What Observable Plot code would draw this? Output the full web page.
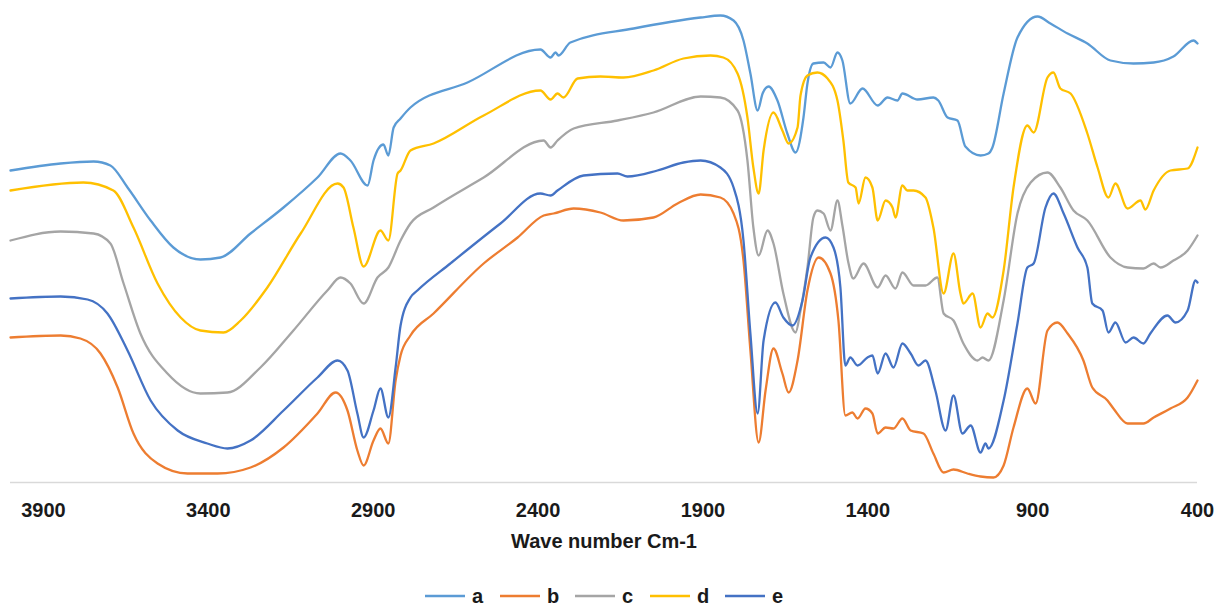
<!DOCTYPE html>
<html>
<head>
<meta charset="utf-8">
<script src="https://cdn.jsdelivr.net/npm/d3@7"></script>
<script src="https://cdn.jsdelivr.net/npm/@observablehq/plot@0.6"></script>
<style>
  body { margin: 0; background: #fff; font-family: "Liberation Sans", Arial, sans-serif; }
  #wrap { position: relative; width: 1219px; height: 607px; }
  #legend { position: absolute; left: 425px; top: 586px; height: 20px; display: flex; align-items: center; }
  .item { display: flex; align-items: center; width: 75px; font-weight: bold; font-size: 20px; color: #1a1a1a; }
  .item svg { margin-right: 7px; }
</style>
</head>
<body>
<div id="wrap"><div id="chart"></div><div id="legend"></div></div>
<script>
// Wave number (cm-1) and relative transmittance (a.u.)
const seriesNames = ["a", "b", "c", "d", "e"];
const seriesColors = ["#5B9BD5", "#ED7D31", "#A5A5A5", "#FFC000", "#4472C4"];
const xTicks = [3900, 3400, 2900, 2400, 1900, 1400, 900, 400];

const spectrumA = [[4000,311],[3848,318],[3748,320],[3697,316],[3645,294],[3575,261],[3506,234],[3424,222],[3363,224],[3272,248],[3172,274],[3069,304],[2999,328],[2969,321],[2917,296],[2899,321],[2869,337],[2854,326],[2838,354],[2817,363],[2787,374],[2614,399],[2393,432],[2362,424],[2347,429],[2338,426],[2302,439],[2110,453],[1907,464],[1847,466],[1807,461],[1777,441],[1756,408],[1734,371],[1719,388],[1701,395],[1674,381],[1644,348],[1619,329],[1595,364],[1583,398],[1565,418],[1534,419],[1513,414],[1492,429],[1477,421],[1453,378],[1416,393],[1370,376],[1340,384],[1310,381],[1295,388],[1249,382],[1201,384],[1186,381],[1158,364],[1128,361],[1104,335],[1058,326],[1034,328],[1022,334],[988,388],[946,444],[885,465],[846,458],[794,448],[734,438],[664,421],[594,418],[533,419],[473,425],[412,441],[400,438]];

const spectrumB = [[4000,144],[3848,146],[3788,143],[3727,128],[3675,94],[3627,48],[3554,18],[3463,8],[3372,8],[3272,14],[3172,34],[3069,68],[3014,89],[2978,71],[2948,31],[2929,16],[2899,41],[2878,53],[2854,38],[2832,101],[2817,126],[2787,146],[2717,168],[2565,218],[2462,244],[2383,266],[2353,268],[2292,273],[2211,269],[2141,261],[2050,264],[1977,278],[1907,287],[1847,284],[1807,268],[1777,221],[1756,131],[1731,39],[1710,91],[1686,133],[1659,108],[1640,89],[1613,121],[1583,191],[1549,224],[1513,208],[1489,161],[1468,66],[1447,69],[1431,63],[1407,73],[1386,68],[1370,48],[1346,54],[1322,53],[1295,63],[1270,51],[1231,48],[1201,28],[1170,9],[1140,12],[1098,8],[1058,5],[1019,4],[988,16],[958,54],[916,93],[891,78],[855,151],[825,159],[794,148],[746,121],[719,94],[673,81],[655,73],[612,58],[564,58],[533,64],[482,73],[430,84],[400,101]];

const spectrumC = [[4000,241],[3848,250],[3748,248],[3697,238],[3657,198],[3606,148],[3524,108],[3424,88],[3342,89],[3242,114],[3142,151],[3039,191],[2999,204],[2969,198],[2929,178],[2887,204],[2854,214],[2817,241],[2787,258],[2717,274],[2565,304],[2383,341],[2362,334],[2341,341],[2292,353],[2159,361],[2050,369],[1907,385],[1847,384],[1795,371],[1765,321],[1747,254],[1731,226],[1704,251],[1686,238],[1656,188],[1619,149],[1604,171],[1583,214],[1565,264],[1553,271],[1534,268],[1513,251],[1492,281],[1477,256],[1459,219],[1444,203],[1413,218],[1370,194],[1346,206],[1316,193],[1295,209],[1261,196],[1225,196],[1189,204],[1170,168],[1140,161],[1110,138],[1067,121],[1052,124],[1034,121],[988,181],[946,268],[906,299],[855,309],[816,294],[776,271],[734,261],[664,224],[612,214],[564,213],[533,218],[512,214],[473,221],[430,231],[400,246]];

const spectrumD = [[4000,291],[3779,299],[3688,291],[3627,254],[3554,198],[3484,164],[3424,151],[3354,149],[3302,161],[3221,194],[3120,248],[3008,298],[2990,294],[2960,254],[2929,215],[2878,251],[2854,241],[2826,308],[2817,311],[2787,331],[2717,338],[2565,366],[2393,391],[2362,382],[2341,388],[2323,384],[2280,403],[2211,405],[2141,404],[2050,411],[1959,423],[1877,426],[1838,424],[1795,408],[1765,364],[1747,314],[1731,288],[1716,331],[1686,369],[1659,351],[1640,338],[1613,354],[1604,386],[1583,406],[1553,409],[1522,403],[1492,381],[1474,341],[1459,299],[1437,294],[1428,278],[1407,304],[1386,294],[1370,261],[1346,281],[1325,274],[1316,264],[1295,296],[1280,291],[1261,291],[1225,284],[1201,254],[1170,188],[1140,228],[1119,188],[1110,178],[1082,188],[1058,154],[1037,168],[1022,164],[988,211],[958,294],[916,356],[897,349],[855,404],[837,409],[816,393],[785,388],[734,348],[703,314],[670,284],[649,298],[612,273],[573,281],[558,272],[533,291],[482,311],[430,313],[400,334]];

const spectrumE = [[4000,183],[3848,185],[3766,182],[3706,168],[3645,131],[3575,81],[3493,51],[3403,38],[3342,33],[3272,41],[3172,71],[3069,104],[3008,121],[2978,111],[2948,68],[2929,44],[2899,71],[2878,93],[2854,64],[2832,114],[2817,156],[2787,184],[2766,191],[2666,218],[2514,258],[2393,288],[2362,286],[2341,291],[2262,306],[2159,308],[2129,305],[2038,311],[1959,319],[1907,321],[1847,314],[1807,294],[1777,241],[1756,148],[1734,68],[1716,141],[1680,179],[1656,164],[1628,156],[1598,181],[1574,224],[1528,244],[1504,234],[1483,194],[1468,116],[1453,124],[1431,116],[1401,124],[1386,126],[1370,108],[1346,128],[1322,114],[1295,138],[1270,128],[1246,116],[1225,121],[1195,91],[1164,51],[1140,86],[1113,48],[1088,56],[1058,29],[1043,38],[1034,33],[988,81],[946,158],[916,214],[897,218],[861,274],[837,288],[806,268],[764,234],[734,214],[719,178],[688,171],[670,149],[649,159],[618,139],[594,144],[564,138],[543,148],[491,166],[467,159],[430,171],[406,201],[400,199]];

const spectra = [spectrumA, spectrumB, spectrumC, spectrumD, spectrumE];
const rows = [];
spectra.forEach((s, i) => s.forEach(([wn, t]) => rows.push({series: seriesNames[i], wn, t})));

const W = 1219, H = 560;
const chart = Plot.plot({
  width: W,
  height: H,
  marginTop: 10,
  marginLeft: 10,
  marginRight: 22,
  marginBottom: 78,
  style: {fontFamily: "'Liberation Sans', Arial, sans-serif", background: "#fff"},
  x: {domain: [4000, 400], ticks: xTicks},
  y: {domain: [-1, 471], axis: null},
  color: {domain: seriesNames, range: seriesColors},
  marks: [
    Plot.ruleY([-1], {stroke: "#d9d9d9", strokeWidth: 1.5}),
    Plot.axisX({
      ticks: xTicks, tickSize: 0, tickPadding: 20, tickFormat: d => String(d),
      fontSize: 20, fontWeight: "bold", fill: "#1a1a1a",
      label: "Wave number Cm-1", labelAnchor: "center", labelArrow: "none", labelOffset: 65
    }),
    Plot.line(rows, {x: "wn", y: "t", z: "series", stroke: "series", strokeWidth: 2.3, curve: "monotone-x"})
  ]
});
document.getElementById("chart").appendChild(chart);

const legend = document.getElementById("legend");
seriesNames.forEach((n, i) => {
  const item = document.createElement("div");
  item.className = "item";
  item.innerHTML = `<svg width="40" height="6"><line x1="0" y1="3" x2="40" y2="3" stroke="${seriesColors[i]}" stroke-width="2.5"/></svg><span>${n}</span>`;
  legend.appendChild(item);
});
</script>
</body>
</html>
